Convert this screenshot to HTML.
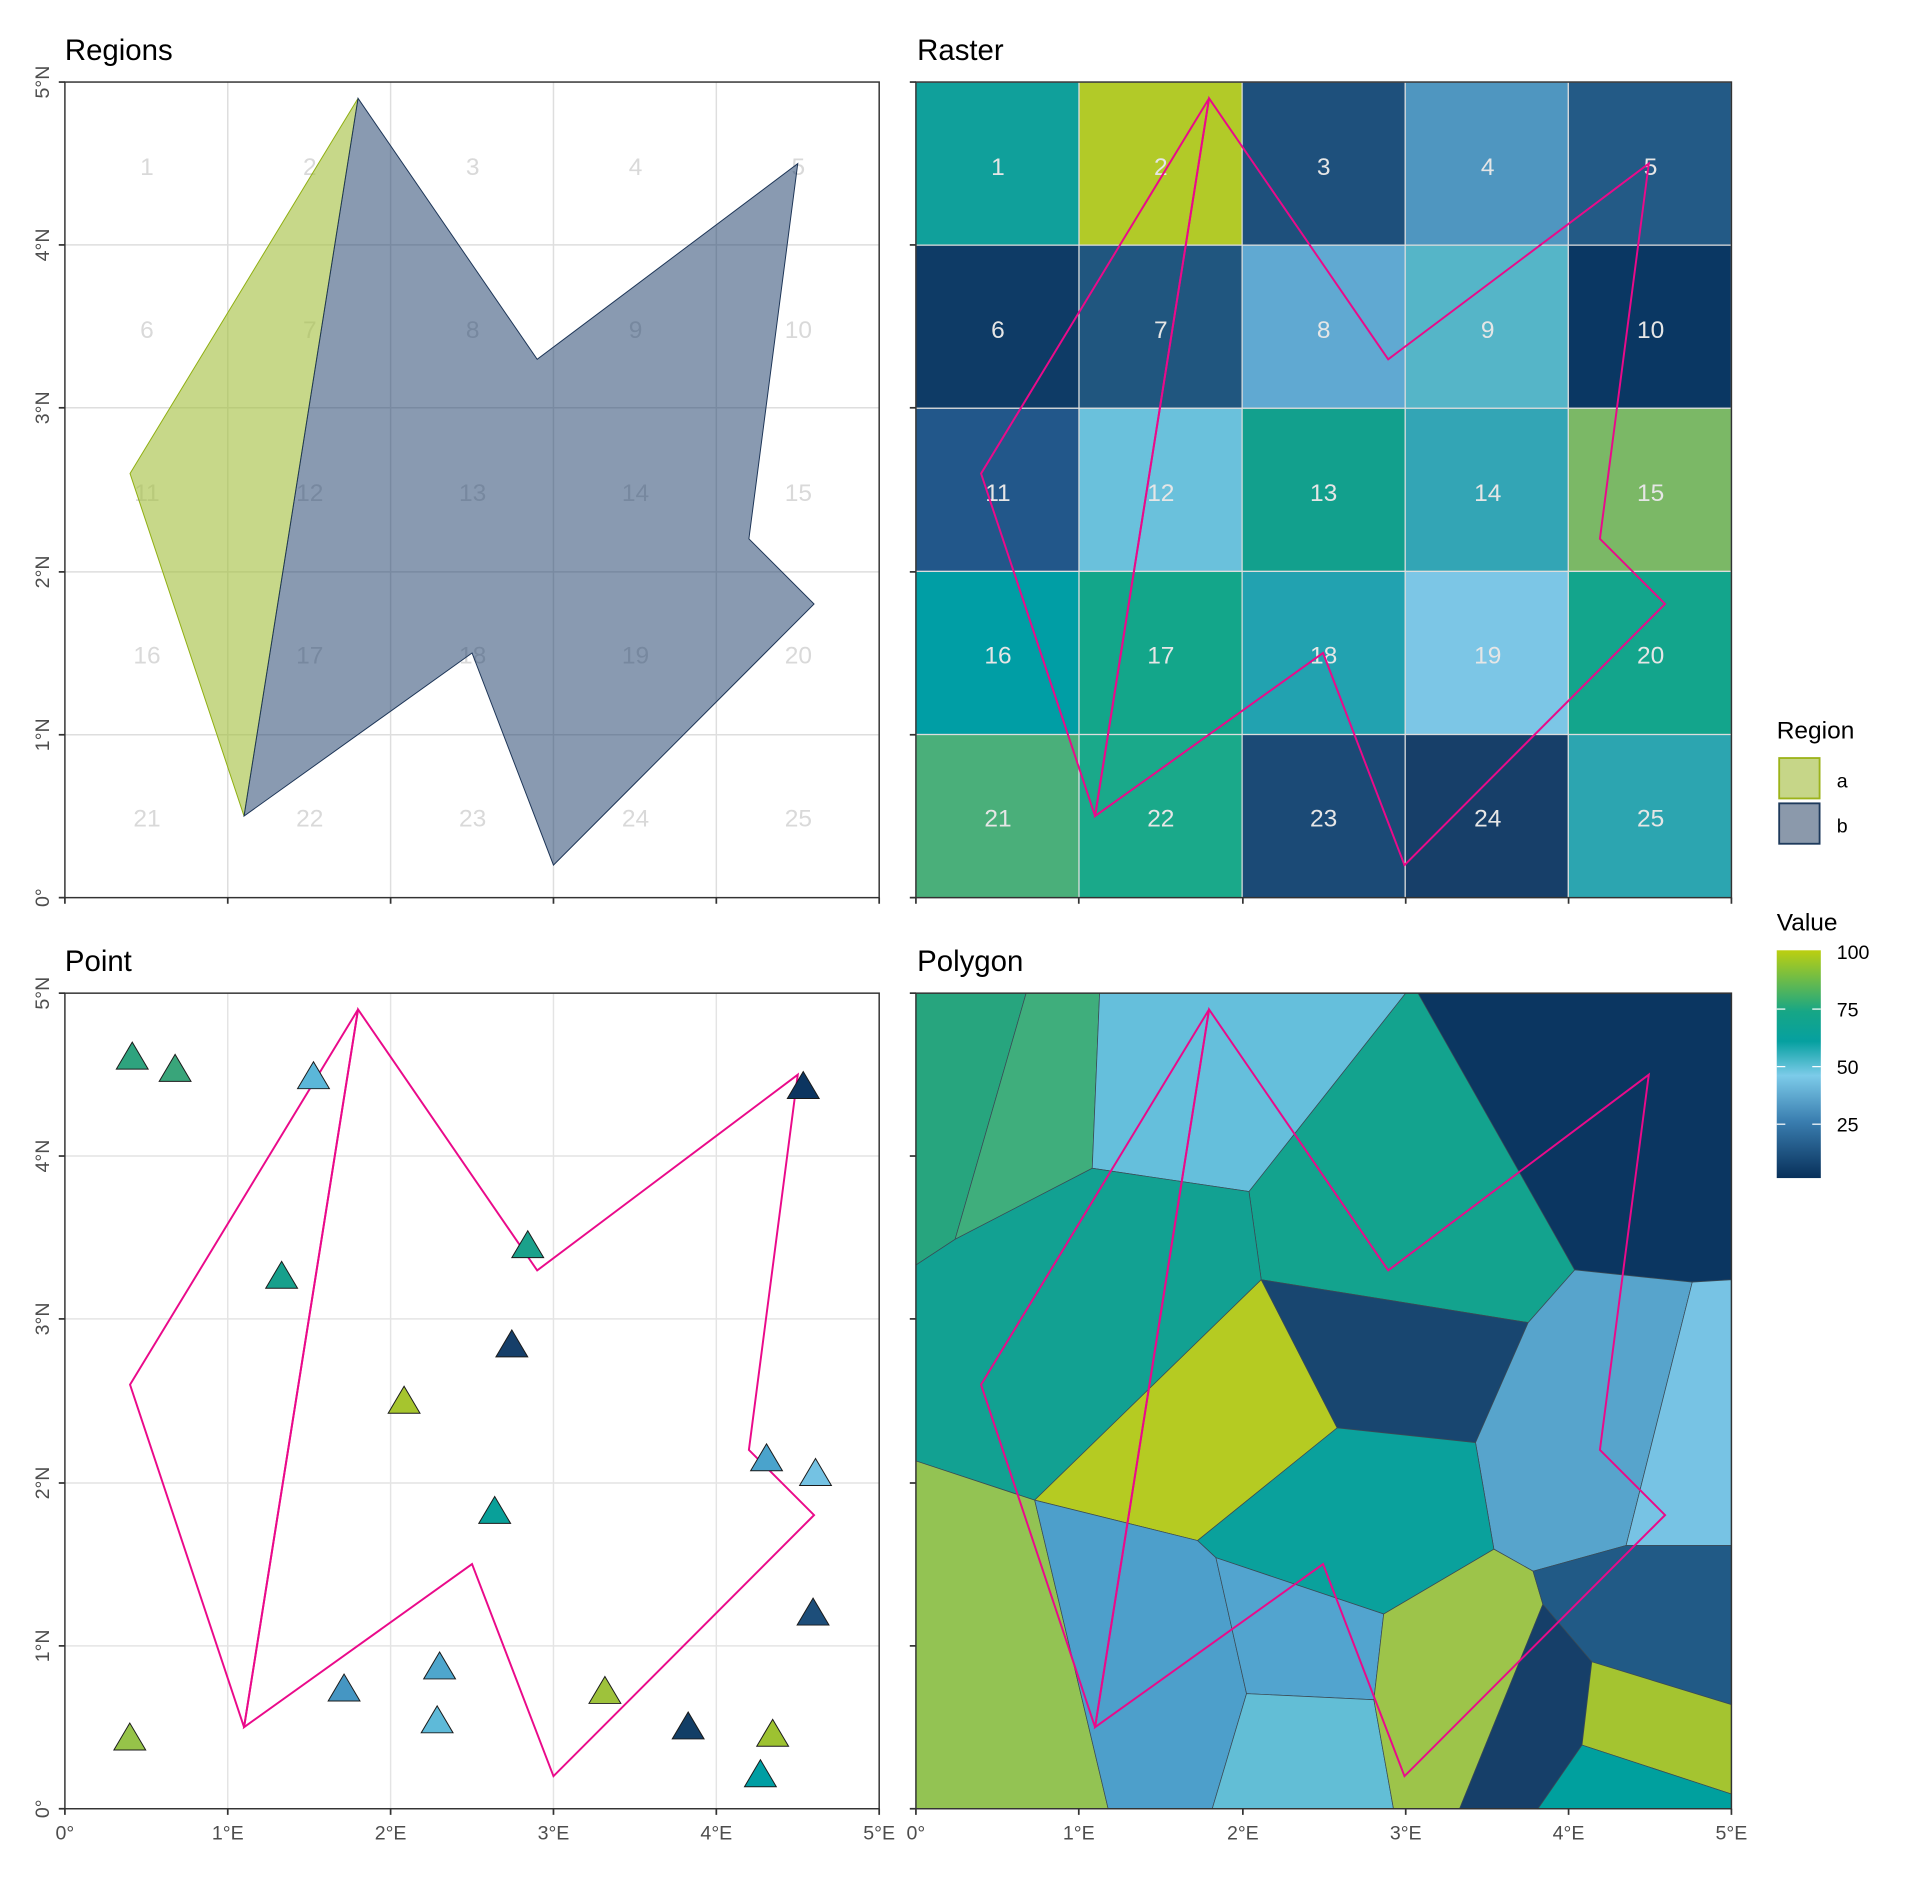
<!DOCTYPE html>
<html><head><meta charset="utf-8"><style>
html,body{margin:0;padding:0;background:#fff;}
svg{display:block;}
text{font-family:"Liberation Sans",Arial,sans-serif;}
</style></head><body>
<svg width="1920" height="1881" viewBox="0 0 1568 1536" preserveAspectRatio="none" xmlns="http://www.w3.org/2000/svg">
<defs>
<linearGradient id="cb" x1="0" y1="1" x2="0" y2="0">
<stop offset="0" stop-color="#08305a"/>
<stop offset="0.25" stop-color="#3a7eb0"/>
<stop offset="0.45" stop-color="#7ccbe9"/>
<stop offset="0.6" stop-color="#06a0a0"/>
<stop offset="0.73" stop-color="#16a686"/>
<stop offset="1" stop-color="#bccf10"/>
</linearGradient>
</defs>
<rect width="1568" height="1536" fill="#fff"/>

<!-- Titles -->
<text x="53" y="49" font-size="24" fill="#000">Regions</text>
<text x="749" y="49" font-size="24" fill="#000">Raster</text>
<text x="53" y="793" font-size="24" fill="#000">Point</text>
<text x="749" y="793" font-size="24" fill="#000">Polygon</text>

<!-- ============ Regions panel ============ -->
<g stroke="#dedede" stroke-width="1.2">
<line x1="186" y1="67" x2="186" y2="733"/><line x1="319" y1="67" x2="319" y2="733"/><line x1="452" y1="67" x2="452" y2="733"/><line x1="585" y1="67" x2="585" y2="733"/>
<line x1="53" y1="200" x2="718" y2="200"/><line x1="53" y1="333" x2="718" y2="333"/><line x1="53" y1="467" x2="718" y2="467"/><line x1="53" y1="600" x2="718" y2="600"/>
</g>
<g font-size="20" fill="#d9d9d9" text-anchor="middle">
<text x="120" y="143">1</text><text x="253" y="143">2</text><text x="386" y="143">3</text><text x="519" y="143">4</text><text x="652" y="143">5</text>
<text x="120" y="276">6</text><text x="253" y="276">7</text><text x="386" y="276">8</text><text x="519" y="276">9</text><text x="652" y="276">10</text>
<text x="120" y="409">11</text><text x="253" y="409">12</text><text x="386" y="409">13</text><text x="519" y="409">14</text><text x="652" y="409">15</text>
<text x="120" y="542">16</text><text x="253" y="542">17</text><text x="386" y="542">18</text><text x="519" y="542">19</text><text x="652" y="542">20</text>
<text x="120" y="675">21</text><text x="253" y="675">22</text><text x="386" y="675">23</text><text x="519" y="675">24</text><text x="652" y="675">25</text>
</g>
<polygon points="106.2,386.7 292.4,80.3 199.3,666.4" fill="#a4c040" fill-opacity="0.62" stroke="#8fae10" stroke-width="0.8"/>
<polygon points="292.4,80.3 438.7,293.4 651.5,133.6 611.6,440 664.8,493.2 452,706.4 385.5,533.2 199.3,666.4" fill="#1d3e6a" fill-opacity="0.52" stroke="#1d3557" stroke-width="0.8"/>
<rect x="53" y="67" width="665" height="666" fill="none" stroke="#333" stroke-width="1.2"/>

<!-- ============ Raster panel ============ -->
<g stroke="#ddd" stroke-width="1">
<rect x="748" y="67" width="133.2" height="133.2" fill="#10a09b"/>
<rect x="881.2" y="67" width="133.2" height="133.2" fill="#b2ca28"/>
<rect x="1014.4" y="67" width="133.2" height="133.2" fill="#1e507c"/>
<rect x="1147.6" y="67" width="133.2" height="133.2" fill="#4f96c0"/>
<rect x="1280.8" y="67" width="133.2" height="133.2" fill="#235a86"/>
<rect x="748" y="200.2" width="133.2" height="133.2" fill="#0e3b66"/>
<rect x="881.2" y="200.2" width="133.2" height="133.2" fill="#20567f"/>
<rect x="1014.4" y="200.2" width="133.2" height="133.2" fill="#60a9d2"/>
<rect x="1147.6" y="200.2" width="133.2" height="133.2" fill="#55b5c8"/>
<rect x="1280.8" y="200.2" width="133.2" height="133.2" fill="#0a3763"/>
<rect x="748" y="333.4" width="133.2" height="133.2" fill="#22578a"/>
<rect x="881.2" y="333.4" width="133.2" height="133.2" fill="#6ac1dc"/>
<rect x="1014.4" y="333.4" width="133.2" height="133.2" fill="#12a08d"/>
<rect x="1147.6" y="333.4" width="133.2" height="133.2" fill="#33a5b5"/>
<rect x="1280.8" y="333.4" width="133.2" height="133.2" fill="#7bb866"/>
<rect x="748" y="466.6" width="133.2" height="133.2" fill="#009ea5"/>
<rect x="881.2" y="466.6" width="133.2" height="133.2" fill="#13a68a"/>
<rect x="1014.4" y="466.6" width="133.2" height="133.2" fill="#22a2b0"/>
<rect x="1147.6" y="466.6" width="133.2" height="133.2" fill="#7cc6e6"/>
<rect x="1280.8" y="466.6" width="133.2" height="133.2" fill="#13a58c"/>
<rect x="748" y="599.8" width="133.2" height="133.2" fill="#4aaf7a"/>
<rect x="881.2" y="599.8" width="133.2" height="133.2" fill="#1aa98a"/>
<rect x="1014.4" y="599.8" width="133.2" height="133.2" fill="#1b4a76"/>
<rect x="1147.6" y="599.8" width="133.2" height="133.2" fill="#173f69"/>
<rect x="1280.8" y="599.8" width="133.2" height="133.2" fill="#2ca5b0"/>
</g>
<g font-size="20" fill="#e6e6e6" text-anchor="middle">
<text x="815" y="143">1</text><text x="948" y="143">2</text><text x="1081" y="143">3</text><text x="1215" y="143">4</text><text x="1348" y="143">5</text>
<text x="815" y="276">6</text><text x="948" y="276">7</text><text x="1081" y="276">8</text><text x="1215" y="276">9</text><text x="1348" y="276">10</text>
<text x="815" y="409">11</text><text x="948" y="409">12</text><text x="1081" y="409">13</text><text x="1215" y="409">14</text><text x="1348" y="409">15</text>
<text x="815" y="542">16</text><text x="948" y="542">17</text><text x="1081" y="542">18</text><text x="1215" y="542">19</text><text x="1348" y="542">20</text>
<text x="815" y="675">21</text><text x="948" y="675">22</text><text x="1081" y="675">23</text><text x="1215" y="675">24</text><text x="1348" y="675">25</text>
</g>
<g fill="none" stroke="#ea0a8a" stroke-width="1.6">
<polygon points="801.2,386.7 987.4,80.3 894.3,666.4"/>
<polygon points="987.4,80.3 1133.7,293.4 1346.5,133.6 1306.6,440 1359.8,493.2 1147,706.4 1080.5,533.2 894.3,666.4"/>
</g>
<rect x="748" y="67" width="666" height="666" fill="none" stroke="#333" stroke-width="1.2"/>

<!-- ============ Point panel ============ -->
<g stroke="#e4e4e4" stroke-width="1.2">
<line x1="186" y1="811" x2="186" y2="1477"/><line x1="319" y1="811" x2="319" y2="1477"/><line x1="452" y1="811" x2="452" y2="1477"/><line x1="585" y1="811" x2="585" y2="1477"/>
<line x1="53" y1="944" x2="718" y2="944"/><line x1="53" y1="1077" x2="718" y2="1077"/><line x1="53" y1="1211" x2="718" y2="1211"/><line x1="53" y1="1344" x2="718" y2="1344"/>
</g>
<g fill="none" stroke="#ea0a8a" stroke-width="1.6">
<polygon points="106.2,1130.7 292.4,824.3 199.3,1410.4"/>
<polygon points="292.4,824.3 438.7,1037.4 651.5,877.6 611.6,1184 664.8,1237.2 452,1450.4 385.5,1277.2 199.3,1410.4"/>
</g>
<g stroke="#1a1a1a" stroke-width="0.8">
<polygon points="108,851 95,873 121,873" fill="#2ea37e"/>
<polygon points="143,861 130,883 156,883" fill="#39a57a"/>
<polygon points="256,867 243,889 269,889" fill="#5bb7d9"/>
<polygon points="656,875 643,897 669,897" fill="#0c3560"/>
<polygon points="230,1030 217,1052 243,1052" fill="#17a08c"/>
<polygon points="431,1005 418,1027 444,1027" fill="#1aa18b"/>
<polygon points="418,1086 405,1108 431,1108" fill="#163f69"/>
<polygon points="330,1132 317,1154 343,1154" fill="#a6c52e"/>
<polygon points="404,1222 391,1244 417,1244" fill="#09a099"/>
<polygon points="626,1179 613,1201 639,1201" fill="#4aa3cc"/>
<polygon points="666,1191 653,1213 679,1213" fill="#74c2e3"/>
<polygon points="664,1305 651,1327 677,1327" fill="#1d4e7a"/>
<polygon points="281,1367 268,1389 294,1389" fill="#4596c3"/>
<polygon points="359,1349 346,1371 372,1371" fill="#4ea6cd"/>
<polygon points="357,1393 344,1415 370,1415" fill="#5ebad9"/>
<polygon points="494,1369 481,1391 507,1391" fill="#9ec23b"/>
<polygon points="106,1407 93,1429 119,1429" fill="#96c349"/>
<polygon points="562,1398 549,1420 575,1420" fill="#123e66"/>
<polygon points="631,1404 618,1426 644,1426" fill="#9dc231"/>
<polygon points="621,1437 608,1459 634,1459" fill="#009ea3"/>
</g>
<rect x="53" y="811" width="665" height="666" fill="none" stroke="#333" stroke-width="1.2"/>

<!-- ============ Polygon panel ============ -->
<g stroke="#3a4a55" stroke-width="0.6">
<polygon points="748,811 838,811 780,1012 748,1033" fill="#27a57e"/>
<polygon points="838,811 898,811 892,954 780,1012" fill="#3fae7c"/>
<polygon points="898,811 1148,811 1020,973 892,954" fill="#65bfdc"/>
<polygon points="1148,811 1160,811 1286,1037 1248,1080 1030,1045 1020,973" fill="#13a38e"/>
<polygon points="1158,811 1414,811 1414,1045 1382,1047 1286,1037" fill="#0b3661"/>
<polygon points="748,1033 780,1012 892,954 1020,973 1030,1045 845,1225 748,1193" fill="#12a192"/>
<polygon points="845,1225 1030,1045 1092,1166 978,1258" fill="#b5cb22"/>
<polygon points="1030,1045 1248,1080 1205,1178 1092,1166" fill="#184670"/>
<polygon points="1248,1080 1286,1037 1382,1047 1328,1262 1252,1283 1220,1265 1205,1178" fill="#57a4cc"/>
<polygon points="1382,1047 1414,1045 1414,1262 1328,1262" fill="#77c3e4"/>
<polygon points="978,1258 1092,1166 1205,1178 1220,1265 1130,1318 993,1272" fill="#0aa19c"/>
<polygon points="748,1193 845,1225 905,1477 748,1477" fill="#93c353"/>
<polygon points="845,1225 978,1258 993,1272 1018,1383 990,1477 905,1477" fill="#4d9fcb"/>
<polygon points="993,1272 1130,1318 1122,1388 1018,1383" fill="#52a4cf"/>
<polygon points="1018,1383 1122,1388 1138,1477 990,1477" fill="#62bed6"/>
<polygon points="1130,1318 1220,1265 1252,1283 1260,1310 1192,1477 1138,1477 1122,1388" fill="#9dc44a"/>
<polygon points="1260,1310 1300,1357 1292,1425 1256,1477 1192,1477" fill="#163f69"/>
<polygon points="1252,1283 1328,1262 1414,1262 1414,1392 1300,1357 1260,1310" fill="#215a86"/>
<polygon points="1300,1357 1414,1392 1414,1465 1292,1425" fill="#a4c430"/>
<polygon points="1292,1425 1414,1465 1414,1477 1256,1477" fill="#00a09e"/>
</g>
<g fill="none" stroke="#ea0a8a" stroke-width="1.6">
<polygon points="801.2,1130.7 987.4,824.3 894.3,1410.4"/>
<polygon points="987.4,824.3 1133.7,1037.4 1346.5,877.6 1306.6,1184 1359.8,1237.2 1147,1450.4 1080.5,1277.2 894.3,1410.4"/>
</g>
<rect x="748" y="811" width="666" height="666" fill="none" stroke="#333" stroke-width="1.2"/>

<!-- ============ Ticks ============ -->
<g stroke="#333" stroke-width="1.4">
<!-- left panels y ticks -->
<line x1="48" y1="67" x2="53" y2="67"/><line x1="48" y1="200" x2="53" y2="200"/><line x1="48" y1="333" x2="53" y2="333"/><line x1="48" y1="467" x2="53" y2="467"/><line x1="48" y1="600" x2="53" y2="600"/><line x1="48" y1="733" x2="53" y2="733"/>
<line x1="48" y1="811" x2="53" y2="811"/><line x1="48" y1="944" x2="53" y2="944"/><line x1="48" y1="1077" x2="53" y2="1077"/><line x1="48" y1="1211" x2="53" y2="1211"/><line x1="48" y1="1344" x2="53" y2="1344"/><line x1="48" y1="1477" x2="53" y2="1477"/>
<line x1="743" y1="67" x2="748" y2="67"/><line x1="743" y1="200" x2="748" y2="200"/><line x1="743" y1="333" x2="748" y2="333"/><line x1="743" y1="467" x2="748" y2="467"/><line x1="743" y1="600" x2="748" y2="600"/><line x1="743" y1="733" x2="748" y2="733"/>
<line x1="743" y1="811" x2="748" y2="811"/><line x1="743" y1="944" x2="748" y2="944"/><line x1="743" y1="1077" x2="748" y2="1077"/><line x1="743" y1="1211" x2="748" y2="1211"/><line x1="743" y1="1344" x2="748" y2="1344"/><line x1="743" y1="1477" x2="748" y2="1477"/>
<!-- x ticks -->
<line x1="53" y1="733" x2="53" y2="738"/><line x1="186" y1="733" x2="186" y2="738"/><line x1="319" y1="733" x2="319" y2="738"/><line x1="452" y1="733" x2="452" y2="738"/><line x1="585" y1="733" x2="585" y2="738"/><line x1="718" y1="733" x2="718" y2="738"/>
<line x1="748" y1="733" x2="748" y2="738"/><line x1="881" y1="733" x2="881" y2="738"/><line x1="1015" y1="733" x2="1015" y2="738"/><line x1="1148" y1="733" x2="1148" y2="738"/><line x1="1281" y1="733" x2="1281" y2="738"/><line x1="1414" y1="733" x2="1414" y2="738"/>
<line x1="53" y1="1477" x2="53" y2="1482"/><line x1="186" y1="1477" x2="186" y2="1482"/><line x1="319" y1="1477" x2="319" y2="1482"/><line x1="452" y1="1477" x2="452" y2="1482"/><line x1="585" y1="1477" x2="585" y2="1482"/><line x1="718" y1="1477" x2="718" y2="1482"/>
<line x1="748" y1="1477" x2="748" y2="1482"/><line x1="881" y1="1477" x2="881" y2="1482"/><line x1="1015" y1="1477" x2="1015" y2="1482"/><line x1="1148" y1="1477" x2="1148" y2="1482"/><line x1="1281" y1="1477" x2="1281" y2="1482"/><line x1="1414" y1="1477" x2="1414" y2="1482"/>
</g>
<g font-size="16" fill="#4d4d4d" text-anchor="middle">
<text transform="translate(40,67) rotate(-90)">5°N</text>
<text transform="translate(40,200) rotate(-90)">4°N</text>
<text transform="translate(40,333) rotate(-90)">3°N</text>
<text transform="translate(40,467) rotate(-90)">2°N</text>
<text transform="translate(40,600) rotate(-90)">1°N</text>
<text transform="translate(40,733) rotate(-90)">0°</text>
<text transform="translate(40,811) rotate(-90)">5°N</text>
<text transform="translate(40,944) rotate(-90)">4°N</text>
<text transform="translate(40,1077) rotate(-90)">3°N</text>
<text transform="translate(40,1211) rotate(-90)">2°N</text>
<text transform="translate(40,1344) rotate(-90)">1°N</text>
<text transform="translate(40,1477) rotate(-90)">0°</text>
<text x="53" y="1502">0°</text><text x="186" y="1502">1°E</text><text x="319" y="1502">2°E</text><text x="452" y="1502">3°E</text><text x="585" y="1502">4°E</text><text x="718" y="1502">5°E</text>
<text x="748" y="1502">0°</text><text x="881" y="1502">1°E</text><text x="1015" y="1502">2°E</text><text x="1148" y="1502">3°E</text><text x="1281" y="1502">4°E</text><text x="1414" y="1502">5°E</text>
</g>

<!-- ============ Legends ============ -->
<text x="1451" y="603" font-size="20" fill="#000">Region</text>
<rect x="1453" y="619" width="33" height="33" fill="#c6d688" stroke="#9cb31a" stroke-width="1.5"/>
<rect x="1453" y="656" width="33" height="33" fill="#8b99ab" stroke="#1e3a5c" stroke-width="1.5"/>
<text x="1500" y="643" font-size="16" fill="#000">a</text>
<text x="1500" y="680" font-size="16" fill="#000">b</text>
<text x="1451" y="760" font-size="20" fill="#000">Value</text>
<rect x="1451" y="776" width="36" height="186" fill="url(#cb)"/>
<g stroke="#fff" stroke-width="1">
<line x1="1451" y1="824" x2="1458" y2="824"/><line x1="1480" y1="824" x2="1487" y2="824"/>
<line x1="1451" y1="871" x2="1458" y2="871"/><line x1="1480" y1="871" x2="1487" y2="871"/>
<line x1="1451" y1="918" x2="1458" y2="918"/><line x1="1480" y1="918" x2="1487" y2="918"/>
</g>
<g font-size="16" fill="#000">
<text x="1500" y="783">100</text>
<text x="1500" y="830">75</text>
<text x="1500" y="877">50</text>
<text x="1500" y="924">25</text>
</g>
</svg>
</body></html>
